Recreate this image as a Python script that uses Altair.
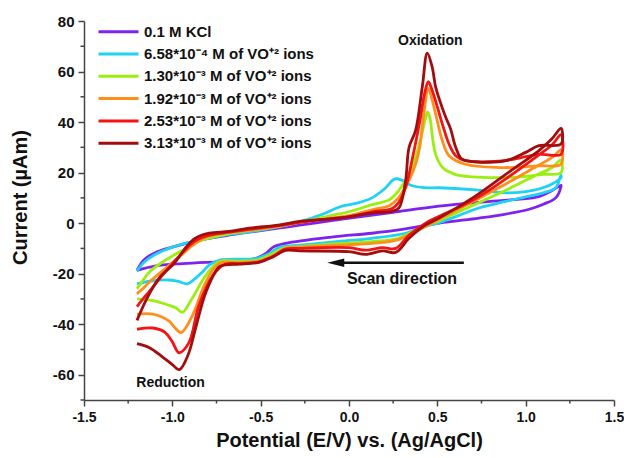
import altair as alt
import pandas as pd

# ---------------- data ----------------
SERIES = [
    "0.1 M KCl",
    "6.58*10⁻⁴ M of VO⁺² ions",
    "1.30*10⁻³ M of VO⁺² ions",
    "1.92*10⁻³ M of VO⁺² ions",
    "2.53*10⁻³ M of VO⁺² ions",
    "3.13*10⁻³ M of VO⁺² ions",
]
COLORS = ["#7E22F0", "#1FD1F2", "#9BEF0F", "#FF8F1A", "#F41414", "#A30D0D"]

# each loop: forward branch (-1.2 -> 1.2) followed by reverse branch (1.2 -> -1.2)
KCL_E = [-1.2, -1.16, -1.1, -1.0, -0.85, -0.7, -0.566, -0.4, -0.28, -0.1, 0.057, 0.25, 0.51, 0.75, 0.95, 1.075, 1.14, 1.2,
         1.2, 1.17, 1.1, 1.02, 0.88, 0.736, 0.51, 0.3, 0.13, -0.1, -0.36, -0.43, -0.47, -0.53, -0.66, -0.94, -1.1, -1.2]
KCL_I = [-18.7, -14.5, -11.8, -9.5, -6.8, -5.0, -3.6, -2.0, -0.8, 1.0, 2.5, 4.3, 6.7, 8.3, 9.4, 10.5, 12.5, 15.0,
         14.5, 10.0, 7.5, 5.5, 3.5, 2.0, 0.0, -2.5, -4.0, -5.5, -8.0, -9.5, -12.0, -14.0, -15.0, -16.0, -17.0, -18.7]

C1_E = [-1.2, -1.16, -1.1, -1.0, -0.87, -0.7, -0.566, -0.4, -0.28, -0.15, -0.05, 0.05, 0.13, 0.2, 0.26, 0.3, 0.35, 0.43, 0.51, 0.7, 0.89, 1.0, 1.075, 1.15, 1.2,
        1.2, 1.17, 1.1, 1.02, 0.88, 0.736, 0.6, 0.51, 0.43, 0.32, 0.13, -0.1, -0.28, -0.4, -0.45, -0.53, -0.66, -0.736, -0.79, -0.83, -0.88, -0.915, -0.97, -1.02, -1.13, -1.2]
C1_I = [-19.0, -15.5, -12.5, -9.5, -7.0, -4.7, -3.5, -1.5, 0.5, 3.5, 6.5, 8.0, 10.0, 13.5, 17.5, 17.0, 15.0, 14.0, 14.0, 13.3, 12.0, 12.5, 13.5, 15.5, 18.0,
        19.0, 14.0, 12.0, 10.7, 8.5, 6.0, 2.5, 0.2, -1.3, -4.0, -6.0, -7.5, -8.7, -9.8, -12.0, -14.0, -14.3, -14.7, -16.5, -19.3, -22.5, -24.0, -23.0, -22.5, -23.0, -24.0]

C2_E = [-1.2, -1.16, -1.13, -1.04, -0.94, -0.83, -0.68, -0.566, -0.4, -0.28, -0.1, 0.0, 0.13, 0.23, 0.28, 0.34, 0.38, 0.415, 0.435, 0.445, 0.46, 0.47, 0.49, 0.53, 0.6, 0.7, 0.85, 1.0, 1.1, 1.2,
        1.2, 1.15, 1.075, 0.887, 0.7, 0.51, 0.4, 0.28, 0.13, -0.1, -0.28, -0.36, -0.43, -0.51, -0.62, -0.736, -0.81, -0.89, -0.943, -0.98, -1.02, -1.11, -1.2]
C2_I = [-26.0, -22.0, -19.3, -14.7, -10.7, -6.7, -4.2, -3.0, -1.3, 0.3, 3.0, 4.5, 7.3, 9.3, 12.7, 19.5, 27.0, 36.0, 42.0, 44.0, 41.0, 35.4, 27.3, 22.0, 19.3, 18.3, 18.0, 18.5, 19.3, 20.0,
        25.0, 22.0, 19.5, 13.0, 7.0, 1.0, -2.0, -6.0, -7.3, -8.3, -9.3, -9.7, -12.0, -14.5, -15.0, -15.3, -20.7, -30.0, -35.3, -33.5, -32.5, -30.7, -30.0]

C3_E = [-1.2, -1.16, -1.13, -1.04, -0.96, -0.87, -0.79, -0.68, -0.566, -0.4, -0.28, -0.1, 0.0, 0.13, 0.23, 0.28, 0.34, 0.38, 0.4, 0.425, 0.449, 0.47, 0.49, 0.528, 0.566, 0.66, 0.85, 1.0, 1.075, 1.2,
        1.2, 1.15, 1.075, 0.887, 0.7, 0.51, 0.4, 0.28, 0.13, 0.0, -0.28, -0.36, -0.43, -0.51, -0.62, -0.736, -0.81, -0.887, -0.95, -0.99, -1.02, -1.11, -1.2]
C3_I = [-28.0, -25.5, -23.3, -18.0, -13.3, -8.0, -5.0, -3.8, -2.8, -1.3, 0.3, 2.0, 3.0, 5.3, 7.0, 10.0, 17.0, 24.0, 30.0, 44.0, 53.3, 49.0, 43.3, 32.7, 26.7, 23.3, 22.0, 22.3, 22.7, 23.3,
        29.0, 26.0, 23.0, 15.5, 8.5, 1.5, -2.5, -6.5, -8.0, -8.5, -9.5, -10.0, -12.8, -15.0, -15.5, -16.0, -23.3, -36.7, -43.3, -41.0, -38.7, -36.0, -36.0]

C4_E = [-1.2, -1.16, -1.13, -1.06, -0.98, -0.92, -0.87, -0.79, -0.68, -0.566, -0.4, -0.28, -0.1, 0.0, 0.13, 0.245, 0.28, 0.32, 0.36, 0.4, 0.43, 0.449, 0.47, 0.5, 0.528, 0.566, 0.604, 0.66, 0.85, 1.0, 1.075, 1.2,
        1.2, 1.15, 1.075, 0.887, 0.7, 0.51, 0.434, 0.34, 0.264, 0.19, 0.094, 0.0, -0.28, -0.36, -0.434, -0.51, -0.62, -0.7, -0.77, -0.85, -0.906, -0.962, -1.0, -1.04, -1.11, -1.2]
C4_I = [-33.0, -29.5, -27.0, -21.0, -14.5, -10.0, -7.0, -4.8, -3.6, -2.5, -1.0, 0.3, 1.8, 2.5, 4.5, 5.8, 8.0, 14.0, 26.0, 40.0, 52.0, 56.0, 52.7, 46.0, 39.3, 31.3, 26.7, 24.7, 24.5, 26.3, 27.3, 27.3,
        35.0, 31.0, 27.0, 17.5, 9.0, 2.7, 0.0, -4.7, -10.0, -9.7, -10.7, -9.7, -10.0, -10.3, -13.3, -15.3, -16.0, -16.2, -20.7, -32.7, -47.3, -51.3, -47.0, -43.3, -41.5, -42.0]

C5_E = [-1.2, -1.14, -1.07, -0.99, -0.92, -0.87, -0.79, -0.68, -0.566, -0.4, -0.28, -0.057, 0.13, 0.245, 0.283, 0.32, 0.34, 0.377, 0.415, 0.443, 0.47, 0.49, 0.51, 0.547, 0.575, 0.604, 0.64, 0.717, 0.887, 1.0, 1.075, 1.2,
        1.2, 1.15, 1.075, 0.887, 0.7, 0.51, 0.434, 0.34, 0.264, 0.19, 0.094, 0.0, -0.28, -0.36, -0.434, -0.51, -0.62, -0.7, -0.736, -0.81, -0.87, -0.91, -0.96, -1.0, -1.06, -1.13, -1.2]
C5_I = [-38.5, -29.3, -21.3, -16.0, -9.3, -6.0, -4.0, -3.3, -2.0, -0.8, 0.7, 2.0, 4.0, 4.7, 6.0, 16.7, 30.0, 36.7, 54.0, 67.3, 62.0, 54.0, 49.3, 42.0, 37.3, 30.0, 25.3, 24.3, 24.7, 28.0, 30.7, 31.3,
        37.5, 33.5, 28.7, 19.3, 10.0, 2.0, -0.7, -6.0, -11.6, -11.0, -12.4, -11.3, -11.0, -10.8, -13.5, -15.5, -16.2, -16.5, -17.3, -27.3, -42.0, -52.0, -58.0, -56.0, -52.7, -49.3, -47.7]

CURVES_E = [KCL_E, C1_E, C2_E, C3_E, C4_E, C5_E]
CURVES_I = [KCL_I, C1_I, C2_I, C3_I, C4_I, C5_I]

# axis ticks
X_MAJOR = [-1.5, -1.0, -0.5, 0.0, 0.5, 1.0, 1.5]
X_MINOR = [-1.25, -0.75, -0.25, 0.25, 0.75, 1.25]
Y_MAJOR = [-60, -40, -20, 0, 20, 40, 60, 80]
Y_MINOR = [-70, -50, -30, -10, 10, 30, 50, 70]

# annotations
NOTE_TEXT = ["Oxidation", "Reduction", "Scan direction"]
NOTE_E = [0.46, -1.01, 0.30]
NOTE_I = [72.0, -63.3, -22.0]
NOTE_SIZE = [14, 14, 16]
ARROW_E = [0.65, -0.03]
ARROW_I = [-15.7]
ARROW_HEAD_E = [-0.075]

# ---------------- build tables ----------------
rows = []
for name, xs_, ys_ in zip(SERIES, CURVES_E, CURVES_I):
    for i, (x, y) in enumerate(zip(xs_, ys_)):
        rows.append({"series": name, "E": x, "I": y, "idx": i})
df = pd.DataFrame(rows)

notes = pd.DataFrame({"t": NOTE_TEXT, "E": NOTE_E, "I": NOTE_I, "fs": NOTE_SIZE})
arrow = pd.DataFrame({"E": [ARROW_E[0]], "E2": [ARROW_E[1]], "I": ARROW_I})
head = pd.DataFrame({"E": ARROW_HEAD_E, "I": ARROW_I})
xminor = pd.DataFrame({"E": X_MINOR})
yminor = pd.DataFrame({"I": Y_MINOR})

FONT = "Liberation Sans"
W, H = 530, 379
AXIS_COLOR = "#444"
xs = alt.Scale(domain=[-1.5, 1.5], nice=False, zero=False)
ys = alt.Scale(domain=[-70, 80], nice=False, zero=False)

x_axis = alt.Axis(
    title="Potential (E/V) vs. (Ag/AgCl)",
    values=X_MAJOR, format=".1f",
    labelExpr="replace(datum.label, '\u2212', '-')",
    tickSize=6, grid=False, labelFlush=False, labelOverlap=False,
    labelFontSize=14, titlePadding=6,
)
y_axis = alt.Axis(
    title="Current (\u00b5Am)",
    values=Y_MAJOR, format="d",
    labelExpr="replace(datum.label, '\u2212', '-')",
    tickSize=6, grid=False, labelOverlap=False,
    labelFontSize=15, titlePadding=22, titleY=176,
)

lines = alt.Chart(df).mark_line(strokeWidth=2.8, interpolate="catmull-rom").encode(
    x=alt.X("E:Q", scale=xs, axis=x_axis),
    y=alt.Y("I:Q", scale=ys, axis=y_axis),
    color=alt.Color(
        "series:N",
        scale=alt.Scale(domain=SERIES, range=COLORS),
        sort=SERIES,
        legend=alt.Legend(
            title=None, orient="none", legendX=13, legendY=0.7,
            symbolType="stroke", symbolSize=1600, symbolStrokeWidth=3,
            clipHeight=20, rowPadding=2.3, labelOffset=4, padding=0,
            labelFont=FONT, labelFontSize=15, labelFontWeight="bold", labelColor="#111",
            labelLimit=400,
        ),
    ),
    order="idx:Q",
)

# minor ticks, positioned on the data scales
xminor_ticks = alt.Chart(xminor).mark_rule(color=AXIS_COLOR, strokeWidth=1.5).encode(
    x=alt.X("E:Q", scale=xs), y=alt.value(H), y2=alt.value(H + 3.5),
)
yminor_ticks = alt.Chart(yminor).mark_rule(color=AXIS_COLOR, strokeWidth=1.5).encode(
    y=alt.Y("I:Q", scale=ys), x=alt.value(-3.5), x2=alt.value(0),
)

texts = alt.Chart(notes).mark_text(font=FONT, fontWeight="bold", color="#111").encode(
    x=alt.X("E:Q", scale=xs), y=alt.Y("I:Q", scale=ys), text="t:N",
    size=alt.Size("fs:Q", scale=None),
)

arrow_line = alt.Chart(arrow).mark_rule(strokeWidth=2.5, color="#111").encode(
    x=alt.X("E:Q", scale=xs), x2="E2:Q", y=alt.Y("I:Q", scale=ys),
)
arrow_head = alt.Chart(head).mark_point(
    shape="M-1,0 L1,-0.5 L1,0.5 Z", size=289, filled=True, color="#111", opacity=1
).encode(x=alt.X("E:Q", scale=xs), y=alt.Y("I:Q", scale=ys))

chart = alt.layer(lines, xminor_ticks, yminor_ticks, arrow_line, arrow_head, texts).properties(
    width=W, height=H,
    autosize=alt.AutoSizeParams(type="none"),
    padding={"left": 84, "top": 21, "right": 10, "bottom": 58},
    background="white",
).configure_view(stroke="transparent").configure_axis(
    labelFont=FONT, labelFontWeight="bold", labelColor="#111",
    titleFont=FONT, titleFontSize=20, titleFontWeight="bold", titleColor="#111",
    domainColor=AXIS_COLOR, domainWidth=1.5, tickColor=AXIS_COLOR, tickWidth=1.5,
    labelPadding=4,
)

chart.save("out.html", embed_options={"renderer": "svg", "actions": False})
